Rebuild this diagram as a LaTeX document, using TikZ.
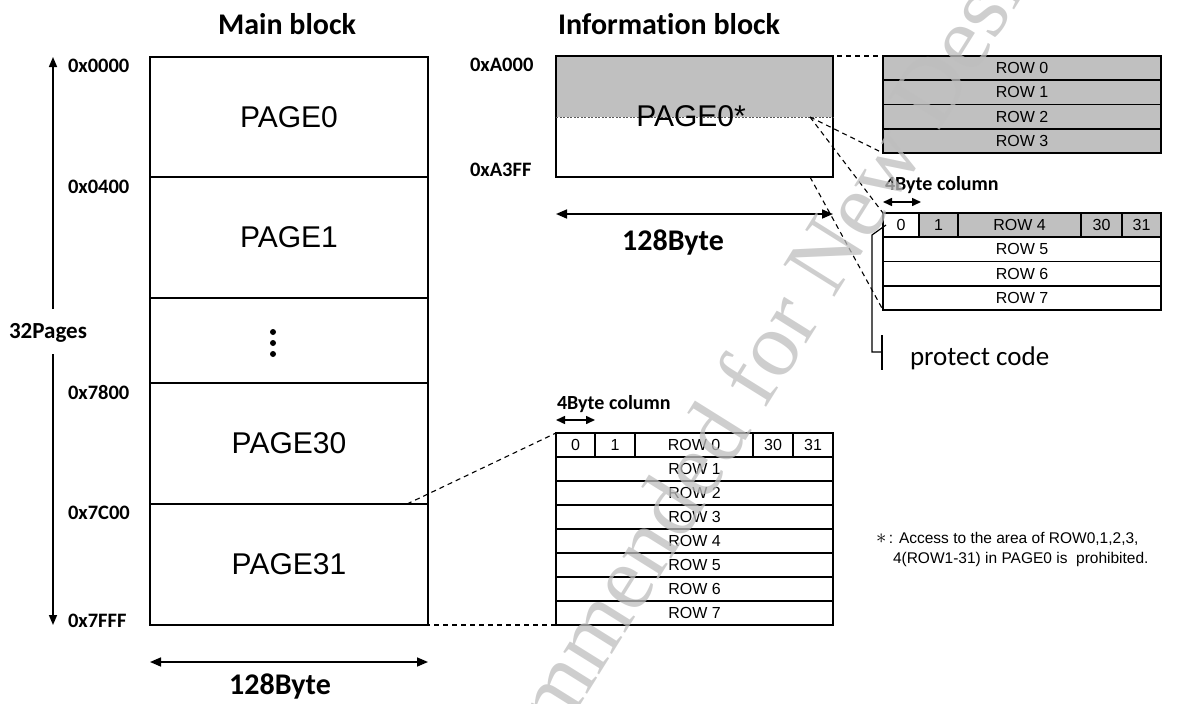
\documentclass[tikz,border=0pt]{standalone}
\usepackage{fontspec}
\setmainfont{Liberation Sans}
\newfontfamily\calfont[Ligatures=NoCommon]{Carlito}
\newfontfamily\wmfont{Liberation Serif}
\usetikzlibrary{arrows.meta}
\definecolor{cellgray}{HTML}{C0C0C0}
\definecolor{wmgray}{HTML}{BEBEBE}
\begin{document}
\begin{tikzpicture}[x=1pt,y=-1pt,
  every node/.style={inner sep=0pt, outer sep=0pt},
  page/.style={draw, line width=1.2pt, minimum width=278pt, anchor=north west, font=\fontsize{30}{30}\selectfont},
  addr/.style={anchor=west, font=\calfont\bfseries\fontsize{20.5}{20.5}\selectfont},
  title/.style={font=\calfont\bfseries\fontsize{30}{30}\selectfont},
  small/.style={font=\calfont\bfseries\fontsize{20}{20}\selectfont, anchor=west},
  row/.style={draw, line width=1.6pt, minimum height=24.25pt, anchor=north west, font=\fontsize{16}{16}\selectfont},
  lrow/.style={draw, line width=1.6pt, minimum height=24pt, anchor=north west, font=\fontsize{16}{16}\selectfont},
  graycell/.style={fill=cellgray},
  dsh/.style={dash pattern=on 5pt off 4pt, line width=1.1pt},
  dim/.style={{Triangle[length=11pt,width=9pt]}-{Triangle[length=11pt,width=9pt]}, line width=1.6pt},
  sdim/.style={{Triangle[length=9pt,width=8pt]}-{Triangle[length=9pt,width=8pt]}, line width=1.5pt},
  varr/.style={-{Triangle[length=10pt,width=8pt]}, line width=1.5pt},
  notetext/.style={anchor=west, font=\fontsize{15.5}{15.5}\selectfont},
]
\useasboundingbox (0,0) rectangle (1184,704);

% ---------- Main block ----------
\node[title] (tmain) at (287,24) {Main block};
\node[page, minimum height=120pt] (p0) at (150,57) {PAGE0};
\node[page, minimum height=121pt] (p1) at (150,177) {PAGE1};
\node[page, minimum height=85pt] (pd) at (150,298) {};
\node[page, minimum height=121pt] (p30) at (150,383) {PAGE30};
\node[page, minimum height=121pt] (p31) at (150,504) {PAGE31};
\fill (273,332) circle (3pt) (273,343) circle (3pt) (273,354) circle (3pt);

\node[addr] (a0) at (68,66) {0x0000};
\node[addr] (a1) at (68,187) {0x0400};
\node[addr] (a2) at (68,392) {0x7800};
\node[addr] (a3) at (68,513) {0x7C00};
\node[addr] (a4) at (68,621) {0x7FFF};

\node[font=\calfont\bfseries\fontsize{23}{23}\selectfont] (pg) at (48,333) {32Pages};
\coordinate (vt) at (53,57);
\coordinate (vb) at (53,625);
\coordinate (g1) at (53,309);
\coordinate (g2) at (53,354);
\draw[varr] (g1) -- (vt);
\draw[varr] (g2) -- (vb);

\coordinate (bl) at (150,662);
\coordinate (br) at (428,662);
\draw[dim] (bl) -- (br);
\node[title] (b128) at (280,686) {128Byte};

% ---------- Information block ----------
\node[title, anchor=west] (tinfo) at (558,24) {Information block};
\node[fill=cellgray, minimum width=277pt, minimum height=61pt, anchor=north west] (ig) at (556,56) {};
\node[draw, line width=1.2pt, minimum width=277pt, minimum height=121pt, anchor=north west] (ib) at (556,56) {};
\draw[black!65, line width=1pt, dash pattern=on 2pt off 1.5pt] (ig.south west) -- (ig.south east);
\node[font=\fontsize{30}{30}\selectfont] (ipg) at (691,116) {PAGE0*};
\node[addr] (ia0) at (470,65) {0xA000};
\node[addr] (ia1) at (470,170) {0xA3FF};
\coordinate (il) at (556,214);
\coordinate (ir) at (833,214);
\draw[dim] (il) -- (ir);
\node[title] (i128) at (673,242) {128Byte};

% upper gray table
\node[row, graycell, minimum width=278pt] (t0) at (883,56) {ROW 0};
\node[row, graycell, minimum width=278pt] (t1) at (883,80.25) {ROW 1};
\node[row, graycell, minimum width=278pt] (t2) at (883,104.5) {ROW 2};
\node[row, graycell, minimum width=278pt] (t3) at (883,128.75) {ROW 3};

% second table
\node[small] (cb1) at (885,185) {4Byte column};
\coordinate (cb1l) at (883,202);
\coordinate (cb1r) at (921,202);
\draw[sdim] (cb1l) -- (cb1r);
\node[row, minimum width=36pt] (u0) at (883,213) {0};
\node[row, graycell, minimum width=39pt] (u1) at (919,213) {1};
\node[row, graycell, minimum width=123pt] (u4) at (958,213) {ROW 4};
\node[row, graycell, minimum width=41pt] (u30) at (1081,213) {30};
\node[row, graycell, minimum width=39pt] (u31) at (1122,213) {31};
\node[row, minimum width=278pt] (u5) at (883,237.25) {ROW 5};
\node[row, minimum width=278pt] (u6) at (883,261.5) {ROW 6};
\node[row, minimum width=278pt] (u7) at (883,285.75) {ROW 7};

% connectors from info block
\coordinate (c1) at (810,56);
\coordinate (c2) at (810,117);
\coordinate (c3) at (810,177);
\draw[dsh] (c1) -- (t0.north west);
\draw[dsh] (c2) -- (t3.south west);
\draw[dsh] (c2) -- (u0.north west);
\draw[dsh] (c3) -- (u7.south west);

% protect code
\coordinate (pc0) at (886,225);
\coordinate (pc1) at (872,235);
\coordinate (pc2) at (882,352);
\coordinate (pb1) at (882,335);
\coordinate (pb2) at (882,370);
\draw[line width=1.2pt] (pc0) -- (pc1) |- (pc2);
\draw[line width=1.2pt] (pb1) -- (pb2);
\node[font=\calfont\fontsize{27}{27}\selectfont, anchor=west] (pcode) at (910,358) {protect code};

% lower table
\node[small] (cb2) at (557,404) {4Byte column};
\coordinate (cb2l) at (556,420);
\coordinate (cb2r) at (595,420);
\draw[sdim] (cb2l) -- (cb2r);
\node[lrow, minimum width=39pt] (l0) at (556,433) {0};
\node[lrow, minimum width=40pt] (l1) at (595,433) {1};
\node[lrow, minimum width=118pt] (lr0) at (635,433) {ROW 0};
\node[lrow, minimum width=40pt] (l30) at (753,433) {30};
\node[lrow, minimum width=40pt] (l31) at (793,433) {31};
\node[lrow, minimum width=277pt] (lr1) at (556,457) {ROW 1};
\node[lrow, minimum width=277pt] (lr2) at (556,481) {ROW 2};
\node[lrow, minimum width=277pt] (lr3) at (556,505) {ROW 3};
\node[lrow, minimum width=277pt] (lr4) at (556,529) {ROW 4};
\node[lrow, minimum width=277pt] (lr5) at (556,553) {ROW 5};
\node[lrow, minimum width=277pt] (lr6) at (556,577) {ROW 6};
\node[lrow, minimum width=277pt] (lr7) at (556,601) {ROW 7};

\coordinate (m1) at (407,504);
\coordinate (m2) at (407,625);
\draw[dsh] (m1) -- (l0.north west);
\draw[dsh] (m2) -- (lr7.south west);

% note
\node[notetext] (n1) at (876,539) {{\fontsize{22}{22}\selectfont$\ast$}\,: Access to the area of ROW0,1,2,3,};
\node[notetext] (n2) at (893,559) {4(ROW1-31) in PAGE0 is\ \ prohibited.};

% watermark
\node[rotate=58, text=wmgray, opacity=0.75, font=\wmfont\fontsize{92}{92}\selectfont] (wm) at (716,446) {Not Recommended for New Designs};
\end{tikzpicture}
\end{document}
